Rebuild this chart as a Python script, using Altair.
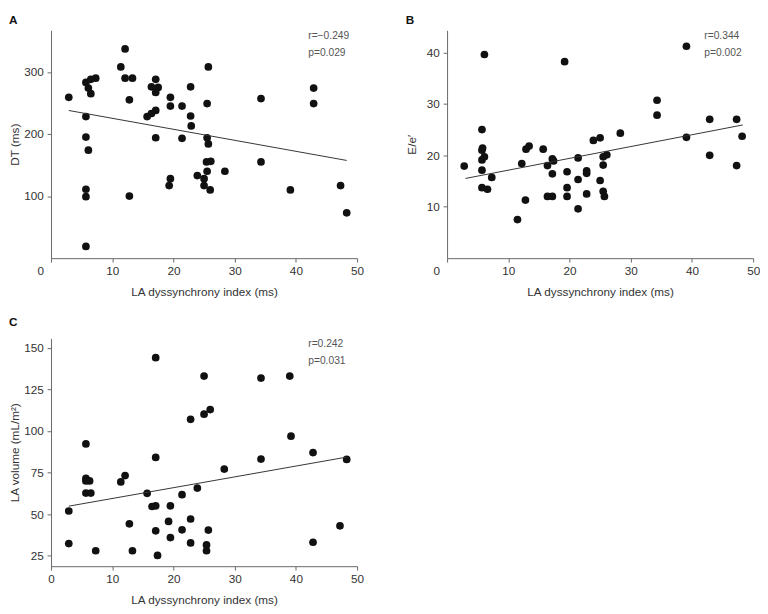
import altair as alt
import pandas as pd

# ---------------- data ----------------
x_ticks = [0, 10, 20, 30, 40, 50]
x_title = "LA dyssynchrony index (ms)"

# Panel A: DT (ms)
a_x = [2.9, 5.7, 6.1, 6.5, 6.5, 7.3, 5.7, 5.7, 6.1, 5.7, 5.7, 5.7,
       11.4, 12.1, 12.1, 13.3, 12.8, 12.8, 15.7, 16.4, 17.1, 16.4, 17.1, 17.5,
       17.1, 17.1, 19.5, 19.5, 19.5, 19.3, 21.4, 21.4, 22.8, 22.8, 22.9, 23.9,
       25.0, 25.0, 25.5, 25.7, 25.5, 25.7, 25.4, 26.1, 25.5, 26.0, 28.4, 34.3,
       34.3, 39.1, 42.9, 42.9, 47.3, 48.3]
a_y = [259, 283, 274, 265, 288, 290, 228, 195, 174, 111, 99, 19,
       308, 337, 290, 290, 255, 100, 228, 233, 238, 276, 288, 275,
       267, 194, 259, 245, 128, 117, 245, 193, 276, 229, 213, 133,
       128, 117, 249, 308, 194, 184, 155, 156, 140, 110, 140, 257,
       155, 110, 274, 249, 117, 73]
a_fit_x = [2.9, 48.3]
a_fit_y = [237.9, 157.4]
a_ticks = [100, 200, 300]
a_stats = ["r=\u22120.249", "p=0.029"]

# Panel B: E/e'
b_x = [2.8, 6.1, 5.7, 5.7, 5.8, 5.7, 6.1, 5.7, 5.7, 6.6,
       7.3, 11.5, 12.2, 12.8, 12.9, 13.4, 15.7, 16.4, 16.4, 17.2,
       17.4, 17.2, 17.2, 19.2, 19.6, 19.6, 19.6, 21.4, 21.4, 21.4,
       22.8, 22.8, 22.8, 23.9, 25.0, 25.0, 25.5, 25.5, 25.5, 25.7,
       26.1, 28.3, 34.3, 34.3, 39.1, 39.1, 42.9, 42.9, 47.3, 47.3, 48.2]
b_y = [17.9, 39.6, 25.0, 21.0, 21.4, 19.1, 19.7, 17.1, 13.7, 13.4,
       15.7, 7.5, 18.4, 11.3, 21.2, 21.8, 21.2, 18.0, 12.0, 19.3,
       18.9, 16.4, 12.0, 38.2, 16.8, 13.7, 12.0, 19.5, 15.3, 9.6,
       17.0, 16.5, 12.5, 22.9, 23.4, 15.1, 19.7, 18.1, 13.0, 12.0,
       20.1, 24.3, 30.7, 27.8, 41.2, 23.5, 27.0, 20.0, 27.0, 18.0, 23.7]
b_fit_x = [3.0, 48.3]
b_fit_y = [15.5, 25.9]
b_ticks = [10, 20, 30, 40]
b_stats = ["r=0.344", "p=0.002"]

# Panel C: LA volume (mL/m2)
c_x = [2.9, 2.9, 5.7, 5.7, 5.7, 6.3, 5.7, 6.5, 7.3, 11.4,
       12.1, 12.8, 13.3, 15.7, 16.5, 17.1, 17.1, 17.1, 17.1, 17.4,
       19.2, 19.5, 19.5, 21.4, 21.4, 22.8, 22.8, 22.8, 23.9, 25.0,
       25.0, 26.0, 25.7, 25.4, 25.4, 28.3, 34.3, 34.3, 39.0, 39.2,
       42.8, 42.8, 47.2, 48.3]
c_y = [51.9, 32.3, 92.2, 71.5, 70.0, 70.0, 62.7, 62.7, 28.0, 69.4,
       73.2, 44.2, 28.0, 62.5, 54.6, 55.0, 144.1, 84.1, 40.0, 25.2,
       45.6, 55.0, 35.9, 61.7, 40.6, 47.1, 32.7, 107.0, 65.7, 133.0,
       110.1, 112.9, 40.4, 31.5, 28.0, 77.1, 131.8, 83.1, 133.0, 96.9,
       87.0, 33.1, 43.0, 82.9]
c_fit_x = [2.9, 48.3]
c_fit_y = [54.8, 84.3]
c_ticks = [25, 50, 75, 100, 125, 150]
c_stats = ["r=0.242", "p=0.031"]

FONT = "Liberation Sans"
W, H = 313, 233


def panel(label, xs, ys, fx, fy, ytitle, ydomain, yticks, stats,
          zero_shift, ytp, toff):
    df = pd.DataFrame({"x": xs, "y": ys})
    fit_df = pd.DataFrame({"x": fx, "y": fy})
    if zero_shift:
        offs = {"condition": {"test": "datum.value == 0", "value": -11},
                "value": 0}
    else:
        offs = 0
    xenc = alt.X("x:Q",
                 scale=alt.Scale(domain=[0, 50], nice=False, zero=False),
                 axis=alt.Axis(values=x_ticks, title=x_title,
                               labelFlush=False, labelOffset=offs,
                               titlePadding=10))
    yenc = alt.Y("y:Q",
                 scale=alt.Scale(domain=ydomain, nice=False, zero=False),
                 axis=alt.Axis(values=yticks, title=ytitle, titlePadding=ytp))
    pts = alt.Chart(df).mark_circle(size=62, color="#111111", opacity=1).encode(
        x=xenc, y=yenc)
    fit = alt.Chart(fit_df).mark_line(
        color="#333333", strokeWidth=1).encode(x="x:Q", y="y:Q")
    t1 = alt.Chart(pd.DataFrame({"t": [stats[0]]})).mark_text(
        align="left", baseline="middle", fontSize=10.5, font=FONT,
        color="#555555").encode(text="t:N", x=alt.value(263), y=alt.value(6))
    t2 = alt.Chart(pd.DataFrame({"t": [stats[1]]})).mark_text(
        align="left", baseline="middle", fontSize=10.5, font=FONT,
        color="#555555").encode(text="t:N", x=alt.value(263), y=alt.value(23))
    return alt.layer(pts, fit, t1, t2).properties(
        width=W, height=H,
        title=alt.TitleParams(label, anchor="start", offset=toff))


pa = panel("A", a_x, a_y, a_fit_x, a_fit_y, "DT (ms)", [0, 367], a_ticks,
           a_stats, True, 2, 3)
pb = panel("B", b_x, b_y, b_fit_x, b_fit_y, "E/e\u2032", [0, 44.3], b_ticks,
           b_stats, True, 8, 3)
pc = panel("C", c_x, c_y, c_fit_x, c_fit_y, "LA volume (mL/m\u00b2)",
           [18.7, 155.7], c_ticks, c_stats, False, 2, 10)

top = alt.hconcat(pa, pb, spacing=42)
chart = alt.vconcat(top, pc, spacing=19,
                    padding={"left": 0, "top": 0, "right": 0, "bottom": 0}
                    ).configure_view(stroke=None).configure_axis(
    grid=False, domainColor="#666666", tickColor="#666666", tickSize=4,
    labelColor="#333333", titleColor="#333333", labelFont=FONT,
    titleFont=FONT, labelFontSize=12, titleFontSize=12,
    titleFontWeight="normal", labelPadding=4
).configure_title(font=FONT, fontSize=12, fontWeight="bold", color="#111111")

chart.save("out.html", embed_options={"renderer": "svg", "actions": False})
